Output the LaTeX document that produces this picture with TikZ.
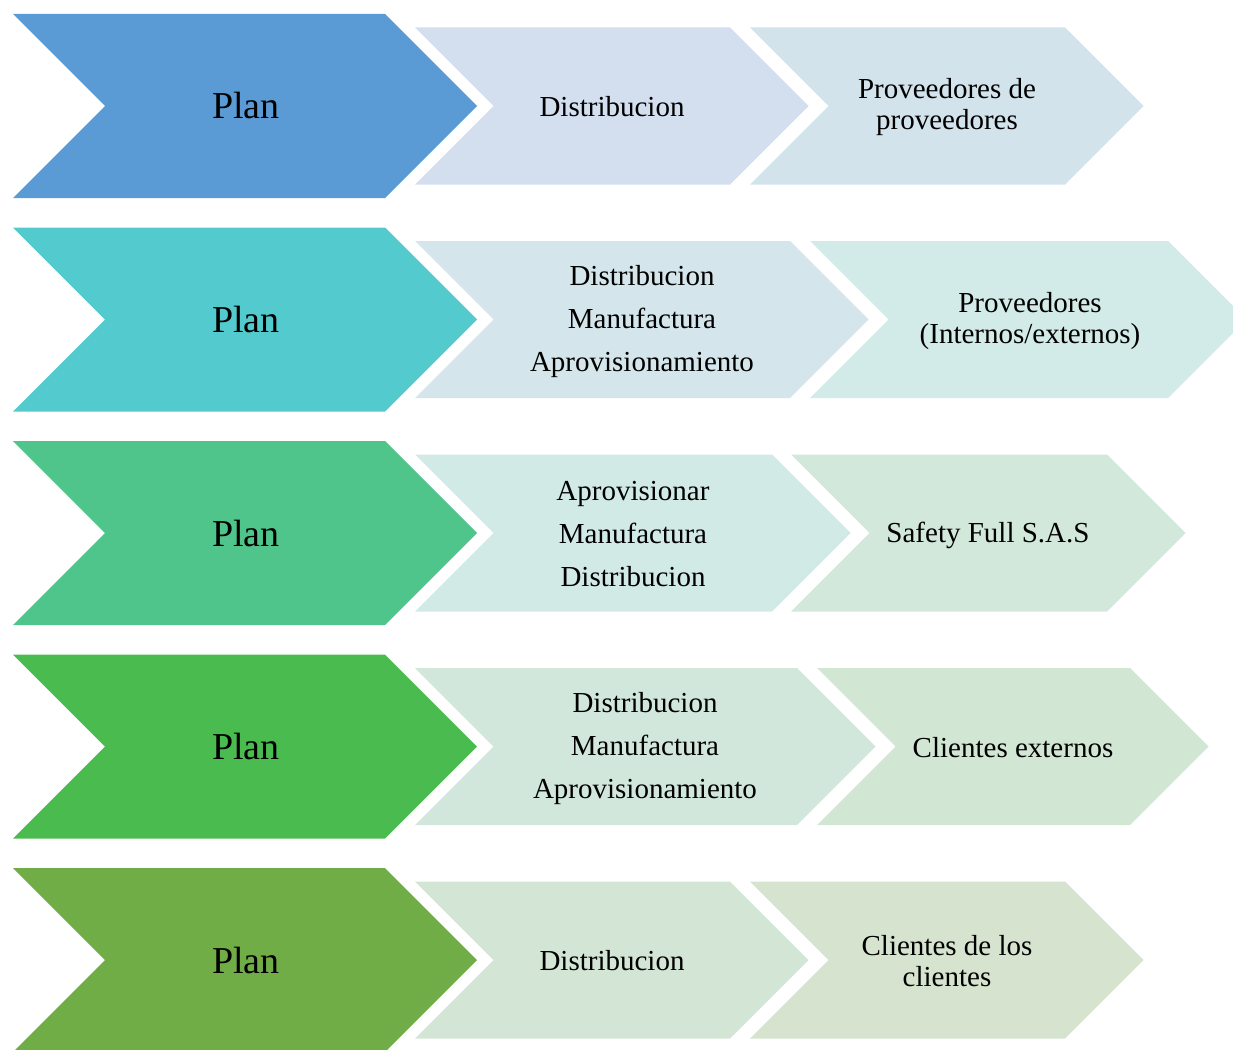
\documentclass[tikz,border=0pt]{standalone}
\usepackage{fontspec}
\setmainfont{Liberation Serif}
\definecolor{p1}{HTML}{5B9BD5}
\definecolor{p2}{HTML}{53CBCE}
\definecolor{p3}{HTML}{4FC58C}
\definecolor{p4}{HTML}{4ABC4F}
\definecolor{p5}{HTML}{70AD47}
\definecolor{a1}{HTML}{D3DFEF}
\definecolor{b1}{HTML}{D2E3EC}
\definecolor{a2}{HTML}{D4E6EB}
\definecolor{b2}{HTML}{D2EBE8}
\definecolor{a3}{HTML}{D2EAE5}
\definecolor{b3}{HTML}{D2E8DB}
\definecolor{a4}{HTML}{D2E7DC}
\definecolor{b4}{HTML}{D1E6D3}
\definecolor{a5}{HTML}{D3E5D4}
\definecolor{b5}{HTML}{D6E3CF}
\newcommand\chevshape[6]{\fill[#6] (#1,#3-#4) -- (#2,#3-#4) -- (#2+#5,#3) -- (#2,#3+#4) -- (#1,#3+#4) -- (#1+#5,#3) -- cycle;}
\begin{document}
\begin{tikzpicture}[x=1pt,y=-1pt,
  plantext/.style={font=\fontsize{38}{40}\selectfont, text=black, inner sep=0pt},
  midtext/.style={font=\fontsize{29}{43}\selectfont, align=center, text=black, inner sep=0pt},
  pairtext/.style={font=\fontsize{29}{31}\selectfont, align=center, text=black, inner sep=0pt}]
\clip (0,0) rectangle (1233,1049);
% Row 1
\chevshape{13}{385}{106}{92}{92}{p1}
\chevshape{415}{730}{106}{78.5}{78.5}{a1}
\chevshape{750}{1065}{106}{78.5}{78.5}{b1}
\node[plantext] (plan1) at (246,106) {Plan};
\node[midtext] (mid1) at (612,107) {Distribucion};
\node[pairtext] (end1) at (947,107) {Proveedores de\\proveedores};
% Row 2
\chevshape{13}{385}{319.5}{92}{92}{p2}
\chevshape{415}{790}{319.5}{78.5}{78.5}{a2}
\chevshape{810}{1168}{319.5}{78.5}{78.5}{b2}
\node[plantext] (plan2) at (246,319.5) {Plan};
\node[midtext] (mid2) at (642,321.5) {Distribucion\\Manufactura\\Aprovisionamiento};
\node[pairtext] (end2) at (1030,321) {Proveedores\\(Internos/externos)};
% Row 3
\chevshape{13}{385}{533}{92}{92}{p3}
\chevshape{415}{772}{533}{78.5}{78.5}{a3}
\chevshape{791}{1107}{533}{78.5}{78.5}{b3}
\node[plantext] (plan3) at (246,533) {Plan};
\node[midtext] (mid3) at (633,534.5) {Aprovisionar\\Manufactura\\Distribucion};
\node[midtext] (end3) at (988,535.5) {Safety Full S.A.S};
% Row 4
\chevshape{13}{385}{746.5}{92}{92}{p4}
\chevshape{415}{797}{746.5}{78.5}{78.5}{a4}
\chevshape{817}{1130}{746.5}{78.5}{78.5}{b4}
\node[plantext] (plan4) at (246,746.5) {Plan};
\node[midtext] (mid4) at (645,748.5) {Distribucion\\Manufactura\\Aprovisionamiento};
\node[midtext] (end4) at (1013,747.5) {Clientes externos};
% Row 5
\chevshape{13}{385}{960}{92}{92}{p5}
\chevshape{415}{730}{960}{78.5}{78.5}{a5}
\chevshape{750}{1065}{960}{78.5}{78.5}{b5}
\node[plantext] (plan5) at (246,960) {Plan};
\node[midtext] (mid5) at (612,961) {Distribucion};
\node[pairtext] (end5) at (947,961) {Clientes de los\\clientes};
\end{tikzpicture}
\end{document}
